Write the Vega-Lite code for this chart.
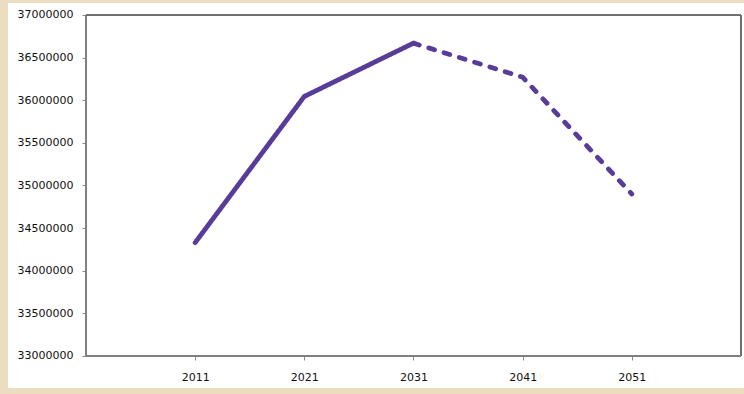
{
  "$schema": "https://vega.github.io/schema/vega-lite/v6.json",
  "width": 736,
  "height": 385,
  "autosize": {"type": "none"},
  "padding": {"left": 8, "top": 3, "right": 0, "bottom": 6},
  "background": "#ecdcc0",
  "config": {
    "view": {"fill": "#ffffff", "stroke": null},
    "axis": {"labelFont": "DejaVu Sans", "labelFontSize": 11, "labelColor": "#111111", "tickColor": "#888888", "grid": false, "domain": false, "title": null}
  },
  "data": {
    "values": [
      {"year": 2011, "population": 34330000, "series": "actual"},
      {"year": 2021, "population": 36045000, "series": "actual"},
      {"year": 2031, "population": 36670000, "series": "actual"},
      {"year": 2031, "population": 36670000, "series": "projected"},
      {"year": 2041, "population": 36270000, "series": "projected"},
      {"year": 2051, "population": 34900000, "series": "projected"}
    ]
  },
  "layer": [
    {
      "mark": {"type": "rule", "color": "#808080", "strokeWidth": 1.5},
      "encoding": {
        "x": {"datum": 2001, "type": "quantitative", "scale": {"domain": [1993.855, 2061.275], "nice": false, "zero": false}},
        "y": {"datum": 33000000, "type": "quantitative"},
        "y2": {"datum": 37000000}
      }
    },
    {
      "mark": {"type": "rule", "color": "#707070", "strokeWidth": 2},
      "encoding": {
        "x": {"datum": 2061, "type": "quantitative"},
        "y": {"datum": 33000000, "type": "quantitative"},
        "y2": {"datum": 37000000}
      }
    },
    {
      "mark": {"type": "rule", "color": "#707070", "strokeWidth": 2},
      "encoding": {
        "x": {"datum": 2001, "type": "quantitative"},
        "x2": {"datum": 2061},
        "y": {"datum": 37000000, "type": "quantitative"}
      }
    },
    {
      "mark": {"type": "rule", "color": "#808080", "strokeWidth": 1.5},
      "encoding": {
        "x": {"datum": 2001, "type": "quantitative"},
        "x2": {"datum": 2061},
        "y": {"datum": 33000000, "type": "quantitative"}
      }
    },
    {
      "mark": {"type": "line", "color": "#583c99", "strokeWidth": 4.8, "strokeCap": "round", "strokeJoin": "round"},
      "encoding": {
        "x": {
          "field": "year", "type": "quantitative",
          "axis": {"values": [2011, 2021, 2031, 2041, 2051], "format": "d", "offset": -32, "tickSize": 4, "labelPadding": 11}
        },
        "y": {
          "field": "population", "type": "quantitative",
          "scale": {"domain": [32624633, 37140762], "nice": false, "zero": false},
          "axis": {"values": [33000000, 33500000, 34000000, 34500000, 35000000, 35500000, 36000000, 36500000, 37000000], "format": "d", "offset": -78, "tickSize": 4, "labelPadding": 9}
        },
        "detail": {"field": "series"},
        "strokeDash": {
          "field": "series", "type": "nominal",
          "scale": {"domain": ["actual", "projected"], "range": [[1, 0], [6, 10]]},
          "legend": null
        }
      }
    }
  ]
}
